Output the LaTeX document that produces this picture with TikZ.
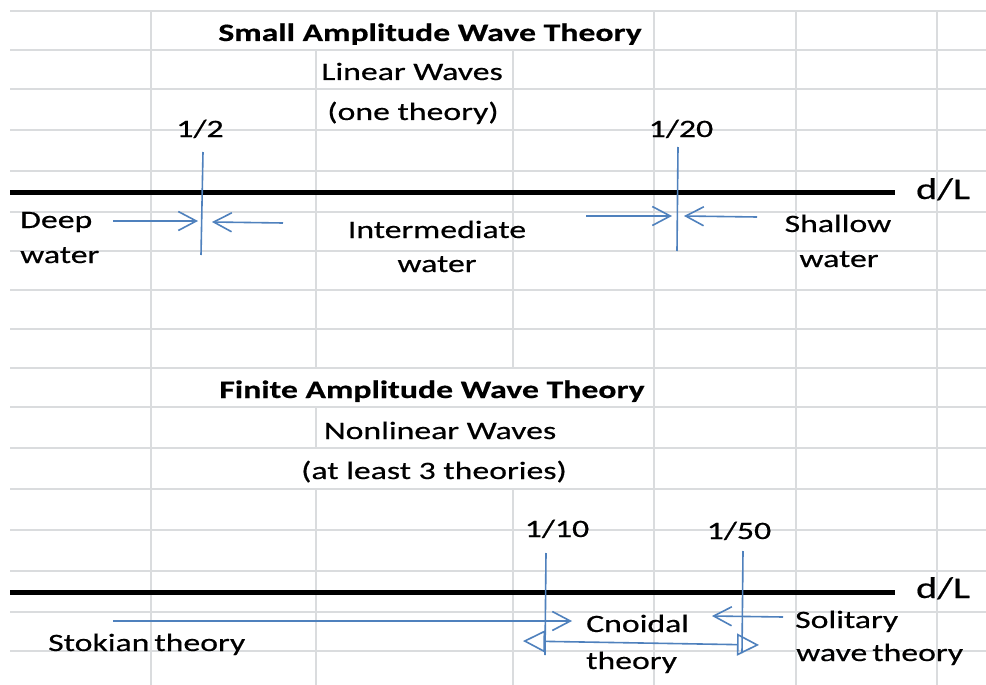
\documentclass[tikz,border=0pt]{standalone}
\usepackage{fontspec}
\setmainfont{Carlito}[FakeStretch=1.35,FakeBold=0.5]
\usetikzlibrary{arrows.meta}
\definecolor{gridc}{RGB}{218,220,222}
\definecolor{bluec}{RGB}{79,129,189}
\begin{document}
\begin{tikzpicture}[x=1pt,y=-1pt,
  gridline/.style={draw=gridc,line width=1.6pt},
  axisline/.style={draw=black,line width=5pt},
  blueline/.style={draw=bluec,line width=1.6pt},
  barb/.style={blueline,-{Straight Barb[length=18pt,width=19pt,line width=1.6pt]}},
  dbl/.style={blueline,{Triangle[open,length=22pt,width=22pt,line width=1.6pt]}-{Triangle[open,length=22pt,width=22pt,line width=1.6pt]}},
  txt/.style={inner sep=0pt,font=\fontsize{25pt}{30pt}\selectfont},
  btxt/.style={inner sep=0pt,font=\fontsize{25pt}{30pt}\selectfont\bfseries},
  dltxt/.style={inner sep=0pt,font=\fontsize{30pt}{36pt}\selectfont}]
\useasboundingbox (0,0) rectangle (986,685);
\fill[white] (0,0) rectangle (986,685);
% grid
\foreach \y in {11,50,89,130,171,212,251,290,329,368,407,448,489,530,571,612,651}
  \draw[gridline] (10,\y) -- (986,\y);
\foreach \x in {151,654,796,937}
  \draw[gridline] (\x,11) -- (\x,685);
\draw[gridline] (316,50) -- (316,368) (316,407) -- (316,448) (316,489) -- (316,685);
\draw[gridline] (513,50) -- (513,368) (513,489) -- (513,685);
% axes
\coordinate (ax1s) at (10,192); \coordinate (ax1e) at (895,192);
\coordinate (ax2s) at (10,592); \coordinate (ax2e) at (895,592);
\draw[axisline] (ax1s) -- (ax1e);
\draw[axisline] (ax2s) -- (ax2e);
\node[dltxt,anchor=base] (dl1) at (943,199) {d/L};
\node[dltxt,anchor=base] (dl2) at (943,598) {d/L};
% top texts
\node[btxt,anchor=base] (t1) at (430,41) {Small Amplitude Wave Theory};
\node[txt,anchor=base] (t2) at (412,80) {Linear Waves};
\node[txt,anchor=base] (t3) at (413,120) {(one theory)};
\node[txt,anchor=base] (h1) at (200,137) {1/2};
\node[txt,anchor=base] (h2) at (681,137) {1/20};
\node[txt,anchor=base west] (dw1) at (20,228) {Deep};
\node[txt,anchor=base west] (dw2) at (20,263) {water};
\node[txt,anchor=base] (iw1) at (437,238) {Intermediate};
\node[txt,anchor=base] (iw2) at (437,272) {water};
\node[txt,anchor=base] (sw1) at (838,232) {Shallow};
\node[txt,anchor=base] (sw2) at (839,267) {water};
% top blue
\coordinate (v1a) at (203,152); \coordinate (v1b) at (201,255);
\coordinate (v2a) at (678,147); \coordinate (v2b) at (677,251);
\draw[blueline] (v1a) -- (v1b);
\draw[blueline] (v2a) -- (v2b);
\coordinate (a1s) at (113,221); \coordinate (a1e) at (198,221);
\coordinate (a2s) at (283,223); \coordinate (a2e) at (212,222);
\coordinate (a3s) at (586,216); \coordinate (a3e) at (672,216);
\coordinate (a4s) at (757,217); \coordinate (a4e) at (684,216);
\draw[barb] (a1s) -- (a1e);
\draw[barb] (a2s) -- (a2e);
\draw[barb] (a3s) -- (a3e);
\draw[barb] (a4s) -- (a4e);
% bottom texts
\node[btxt,anchor=base] (b1) at (432,398) {Finite Amplitude Wave Theory};
\node[txt,anchor=base] (b2) at (440,439) {Nonlinear Waves};
\node[txt,anchor=base] (b3) at (434,479) {(at least 3 theories)};
\node[txt,anchor=base] (h3) at (557,537) {1/10};
\node[txt,anchor=base] (h4) at (739,539) {1/50};
\node[txt,anchor=base west] (st) at (48,651) {Stokian\hspace{5pt}theory};
\node[txt,anchor=base west] (cn1) at (586,632) {Cnoidal};
\node[txt,anchor=base west] (cn2) at (586,669) {theory};
\node[txt,anchor=base west] (so1) at (795,628) {Solitary};
\node[txt,anchor=base west] (so2) at (796,661) {wave\hspace{5pt}theory};
% bottom blue
\coordinate (v3a) at (546,553); \coordinate (v3b) at (545,655);
\coordinate (v4a) at (743,551); \coordinate (v4b) at (742,653);
\draw[blueline] (v3a) -- (v3b);
\draw[blueline] (v4a) -- (v4b);
\coordinate (a5s) at (113,621); \coordinate (a5e) at (572,621);
\coordinate (a6s) at (783,617); \coordinate (a6e) at (712,616);
\coordinate (a7s) at (523,641); \coordinate (a7e) at (759,645);
\draw[barb] (a5s) -- (a5e);
\draw[barb] (a6s) -- (a6e);
\draw[dbl] (a7s) -- (a7e);
\end{tikzpicture}
\end{document}
